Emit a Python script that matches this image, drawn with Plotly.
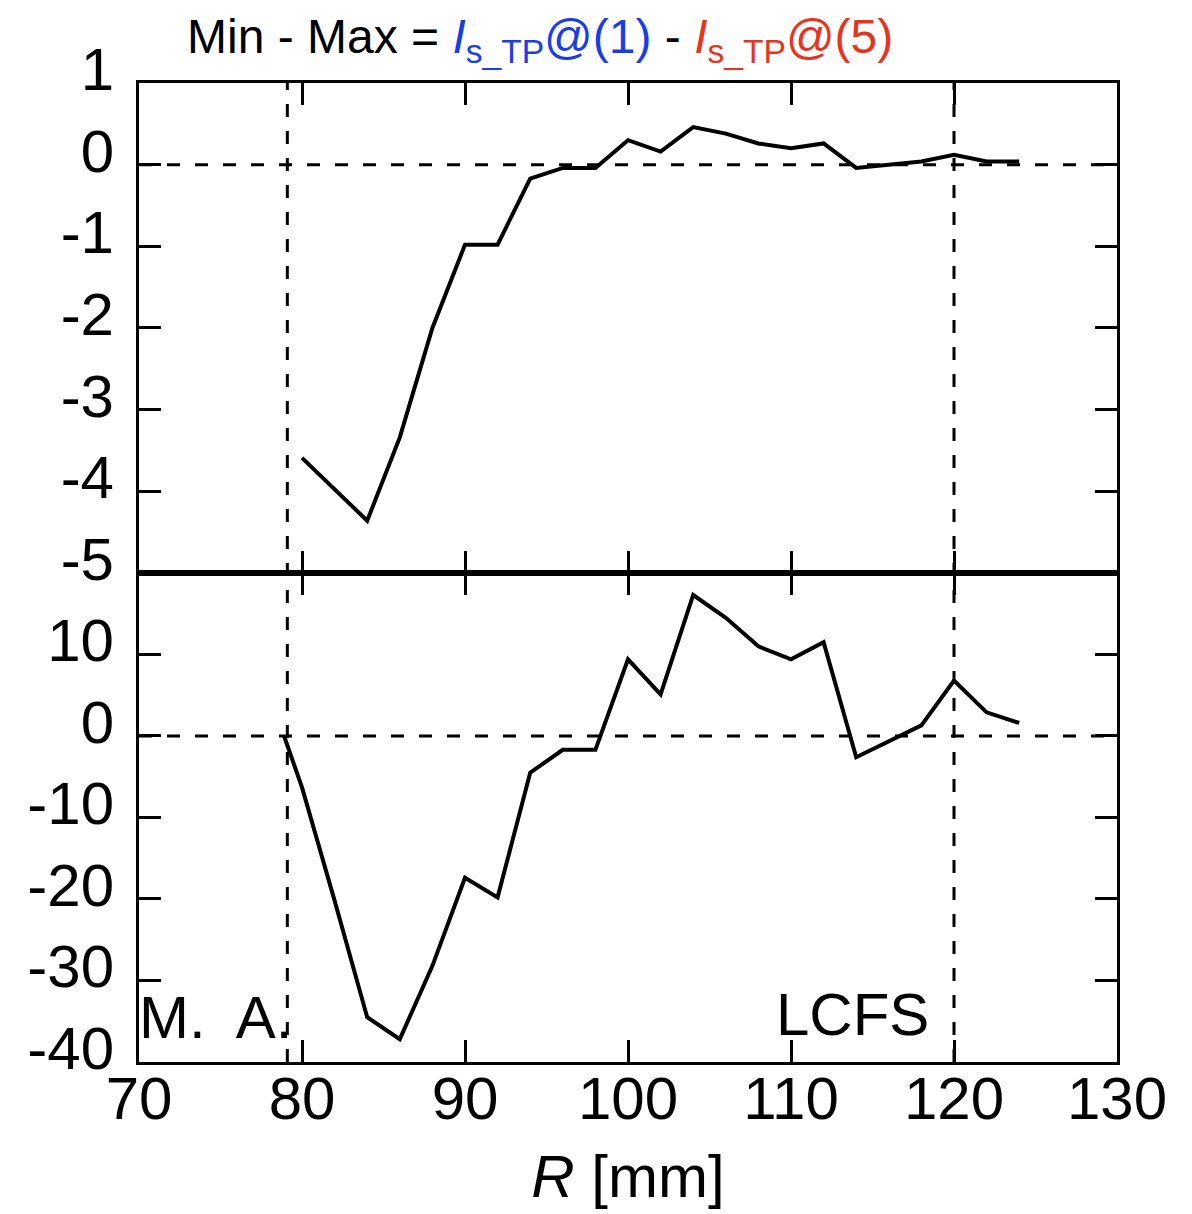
import plotly.graph_objects as go

# ---- data ----
r_top = [80, 84, 86, 88, 90, 92, 94, 96, 98, 100, 102, 104, 106, 108, 110, 112, 114, 116, 118, 120, 122, 124]
v_top = [-3.59, -4.36, -3.34, -2.0, -0.98, -0.98, -0.17, -0.04, -0.04, 0.30, 0.16, 0.46, 0.38, 0.26, 0.20, 0.26,
         -0.04, 0.0, 0.04, 0.12, 0.04, 0.04]

r_bot = [78.9, 80, 82, 84, 86, 88, 90, 92, 94, 96, 98, 100, 102, 104, 106, 108, 110, 112, 114, 116, 118, 120, 122, 124]
v_bot = [0.0, -6.3, -20.2, -34.5, -37.2, -28.2, -17.4, -19.8, -4.5, -1.7, -1.7, 9.4, 5.1, 17.3, 14.5, 11.0, 9.4,
         11.5, -2.6, -0.6, 1.3, 6.8, 2.9, 1.6]

MA_R = 79.1      # magnetic axis
LCFS_R = 120.0   # last closed flux surface

x_ticks = [70, 80, 90, 100, 110, 120, 130]
y_top_ticks = [-5, -4, -3, -2, -1, 0, 1]
y_top_text = ["-5", "-4", "-3", "-2", "-1", "0", "1"]
y_bot_ticks = [-40, -30, -20, -10, 0, 10, 20]
y_bot_text = ["-40", "-30", "-20", "-10", "0", "10", ""]

FONT = "Liberation Sans, Arial, Helvetica, sans-serif"
BLUE = "#1a3ee6"
RED = "#e8341c"
FS = 60

fig = go.Figure()
fig.add_trace(go.Scatter(x=r_top, y=v_top, mode="lines", line=dict(color="black", width=4),
                         xaxis="x2", yaxis="y2", showlegend=False))
fig.add_trace(go.Scatter(x=r_bot, y=v_bot, mode="lines", line=dict(color="black", width=4),
                         xaxis="x", yaxis="y", showlegend=False))

axis_common = dict(showline=True, linecolor="black", linewidth=3, mirror="ticks",
                   ticks="inside", ticklen=22, tickwidth=2.5, tickcolor="black",
                   showgrid=False, zeroline=False,
                   tickfont=dict(family=FONT, size=FS, color="black"))

split = 0.4995
fig.update_layout(
    width=1192, height=1214,
    margin=dict(l=139, r=75, t=83, b=152),
    paper_bgcolor="white", plot_bgcolor="white",
    font=dict(family=FONT, color="black"),
    xaxis=dict(domain=[0, 1], range=[70, 130], tickvals=x_ticks, anchor="y",
               ticklabelstandoff=-18,
               title=dict(text="<i>R</i> [mm]", font=dict(family=FONT, size=FS), standoff=24),
               **axis_common),
    xaxis2=dict(domain=[0, 1], range=[70, 130], tickvals=x_ticks, anchor="y2", matches="x",
                showticklabels=False, **axis_common),
    yaxis=dict(domain=[0, split], range=[-40, 20], tickvals=y_bot_ticks, ticktext=y_bot_text,
               anchor="x", ticklabelshift=-14, ticklabelstandoff=10, **axis_common),
    yaxis2=dict(domain=[split, 1], range=[-5, 1], tickvals=y_top_ticks, ticktext=y_top_text,
                anchor="x2", ticklabelshift=-14, ticklabelstandoff=10, **axis_common),
)

# horizontal zero lines
fig.add_shape(type="line", xref="x2 domain", yref="y2", x0=0, x1=1, y0=0, y1=0,
              line=dict(color="black", width=3, dash="13px,15px"))
fig.add_shape(type="line", xref="x domain", yref="y", x0=0, x1=1, y0=0, y1=0,
              line=dict(color="black", width=3, dash="13px,15px"))
# vertical markers
for xv in (MA_R, LCFS_R):
    fig.add_shape(type="line", xref="x", yref="paper", x0=xv, x1=xv, y0=0, y1=1,
                  line=dict(color="black", width=3, dash="13px,14px"))

fig.add_annotation(x=MA_R + 0.4, y=-34.5, xref="x", yref="y", text="M.  A.", showarrow=False,
                   xanchor="right", yanchor="middle", font=dict(family=FONT, size=FS, color="black"))
fig.add_annotation(x=118.6, y=-34.2, xref="x", yref="y", text="LCFS", showarrow=False,
                   xanchor="right", yanchor="middle", font=dict(family=FONT, size=FS, color="black"))

title = ("Min - Max = "
         f"<span style='color:{BLUE}'><i>I</i><sub>s_TP</sub>@(1)</span>"
         " - "
         f"<span style='color:{RED}'><i>I</i><sub>s_TP</sub>@(5)</span>")
fig.add_annotation(x=(540 - 139) / 978, y=1 + (83 - 40) / 979, xref="paper", yref="paper",
                   text=title, showarrow=False,
                   xanchor="center", yanchor="middle", font=dict(family=FONT, size=48, color="black"))

fig.write_html("out.html")
